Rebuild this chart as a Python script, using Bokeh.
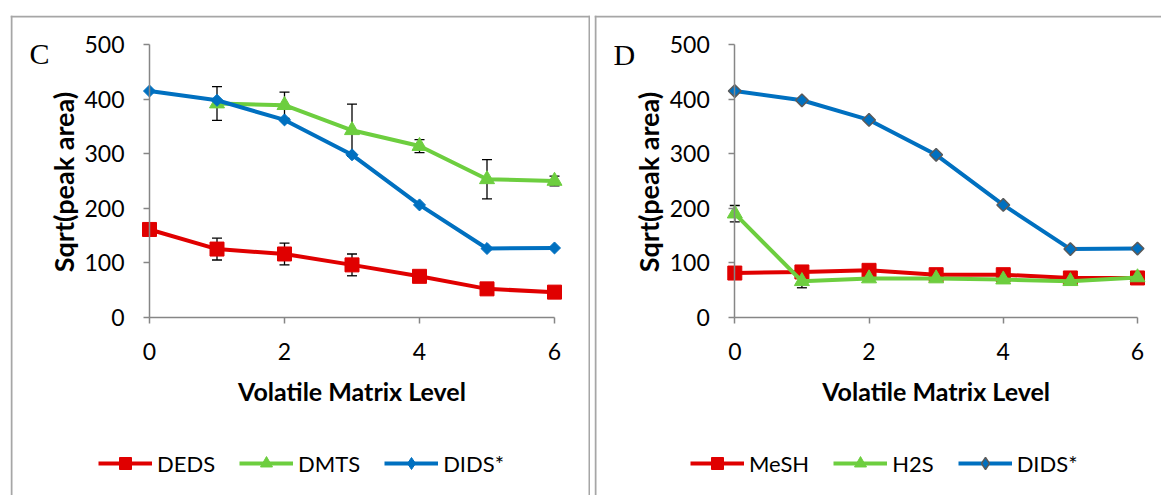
from bokeh.plotting import figure
from bokeh.layouts import row
from bokeh.models import Range1d, Label, Legend, LegendItem, ColumnDataSource, FixedTicker, Span
from bokeh.embed import file_html
from bokeh.resources import INLINE
from math import pi

# ---------------- data ----------------
levels = [0, 1, 2, 3, 4, 5, 6]
x_ticks = [0, 2, 4, 6]
y_ticks = [0, 100, 200, 300, 400, 500]
x_title = "Volatile Matrix Level"
y_title = "Sqrt(peak area)"

# panel C
deds = [161, 125, 116, 96, 75, 52, 46]
deds_err = [0, 20, 20, 20, 0, 0, 0]
dmts_levels = [1, 2, 3, 4, 5, 6]
dmts = [392, 389, 343, 314, 253, 250]
dmts_err = [31, 24, 48, 12, 36, 9]
dids_c = [415, 398, 362, 298, 206, 126, 127]

# panel D
mesh = [81, 83, 86, 78, 78, 72, 72]
mesh_err = [0, 0, 0, 0, 0, 0, 0]
h2s = [190, 66, 71, 71, 69, 66, 73]
h2s_err = [15, 12, 0, 0, 0, 0, 0]
dids_d = [415, 398, 362, 298, 206, 125, 126]

RED = "#E00000"
GREEN = "#6DCE3F"
BLUE = "#0070C0"
AXIS = "#868686"
BORDER = "#A6A6A6"
FONT = "Lato"
NAN = float("nan")


def make_panel(letter, letter_xy, series, width, height, origin, px0, px6, py0, py500,
               legend_xy, right_border):
    ox, oy = origin
    ux = (px6 - px0) / 6.0          # px per x unit
    uy = (py0 - py500) / 500.0      # px per y unit

    def dx(page_x):
        return (page_x - px0) / ux

    def dy(page_y):
        return (py0 - page_y) / uy

    p = figure(width=width, height=height, output_backend="svg", toolbar_location=None,
               x_range=Range1d(dx(ox), dx(ox + width)), y_range=Range1d(dy(oy + height), dy(oy)),
               min_border=0)
    p.outline_line_color = None
    p.grid.visible = False
    p.background_fill_color = "white"
    p.border_fill_color = "white"

    # chart-area border
    p.add_layout(Span(location=dx(ox + 1), dimension="height", line_color=BORDER, line_width=2))
    p.add_layout(Span(location=dy(oy + 1), dimension="width", line_color=BORDER, line_width=2))
    if right_border:
        p.add_layout(Span(location=dx(ox + width - 1), dimension="height", line_color=BORDER, line_width=2))

    for ax in (p.xaxis[0], p.yaxis[0]):
        ax.fixed_location = 0
        ax.axis_line_color = AXIS
        ax.axis_line_width = 1.5
        ax.major_tick_line_color = AXIS
        ax.major_tick_line_width = 1.5
        ax.major_tick_out = 6
        ax.major_tick_in = 0
        ax.minor_tick_line_color = None
        ax.major_label_text_font = FONT
        ax.major_label_text_font_size = "23px"
        ax.major_label_text_color = "#000000"

    p.xaxis[0].ticker = FixedTicker(ticks=x_ticks)
    p.yaxis[0].ticker = FixedTicker(ticks=y_ticks)
    p.xaxis[0].bounds = (min(x_ticks), max(x_ticks))
    p.yaxis[0].bounds = (min(y_ticks), max(y_ticks))
    p.xaxis[0].major_label_standoff = 20
    p.yaxis[0].major_label_standoff = 19

    # axis titles
    p.add_layout(Label(x=(min(x_ticks) + max(x_ticks)) / 2, y=dy(390), text=x_title,
                       text_font=FONT, text_font_style="bold", text_font_size="25px",
                       text_color="#000000", text_align="center", text_baseline="middle"))
    p.add_layout(Label(x=dx(px0 - 86.5), y=(min(y_ticks) + max(y_ticks)) / 2 - 2, text=y_title,
                       angle=pi / 2, text_font=FONT, text_font_style="bold", text_font_size="27px",
                       text_color="#000000", text_align="center", text_baseline="middle"))

    # error bars first (behind lines/markers)
    for s in series:
        if s.get("err") is None:
            continue
        xs, ys, es = s["x"], s["y"], s["err"]
        lo = [y - e for y, e in zip(ys, es)]
        hi = [y + e for y, e in zip(ys, es)]
        src = ColumnDataSource(dict(x=xs, lo=lo, hi=hi))
        p.segment(x0="x", y0="lo", x1="x", y1="hi", source=src, line_color="black", line_width=1.3)
        p.scatter(x="x", y="lo", source=src, marker="dash", size=10, line_color="black", line_width=1.3)
        p.scatter(x="x", y="hi", source=src, marker="dash", size=10, line_color="black", line_width=1.3)

    items = []
    for s in series:
        src = ColumnDataSource(dict(x=s["x"], y=s["y"]))
        lr = p.line(x="x", y="y", source=src, line_color=s["color"], line_width=4)
        m = s["marker"]
        oc = s.get("outline", s["color"])
        ow = s.get("outline_w", 1)
        if m == "diamond":
            p.scatter(x="x", y="y", source=src, marker="square", angle=pi / 4, size=s["size"],
                      fill_color=s["color"], line_color=oc, line_width=ow)
        else:
            p.scatter(x="x", y="y", source=src, marker=m, size=s["size"],
                      fill_color=s["color"], line_color=oc, line_width=ow)
        # legend proxy marker (no visible point)
        leg_m = p.scatter(x=[NAN], y=[NAN], marker=m, fill_color=s["color"], line_color=oc, line_width=ow)
        items.append(LegendItem(label=s["label"], renderers=[lr, leg_m]))

    legend = Legend(items=items, orientation="horizontal", location=legend_xy,
                    glyph_width=54, glyph_height=30, label_height=30, label_standoff=5,
                    spacing=24, padding=0, margin=0, border_line_color=None,
                    background_fill_alpha=0, label_text_font=FONT,
                    label_text_font_size="22px", label_text_color="#000000")
    p.add_layout(legend, "center")

    p.add_layout(Label(x=dx(letter_xy[0]), y=dy(letter_xy[1]), text=letter,
                       text_font="Liberation Serif", text_font_size="30px",
                       text_color="#000000", text_baseline="alphabetic"))
    return p


series_c = [
    dict(label="DEDS", x=levels, y=deds, err=deds_err, color=RED, marker="square", size=14),
    dict(label="DMTS", x=dmts_levels, y=dmts, err=dmts_err, color=GREEN, marker="triangle", size=15),
    dict(label="DIDS*", x=levels, y=dids_c, err=None, color=BLUE, marker="diamond", size=8.5),
]
series_d = [
    dict(label="MeSH", x=levels, y=mesh, err=mesh_err, color=RED, marker="square", size=14),
    dict(label="H2S", x=levels, y=h2s, err=h2s_err, color=GREEN, marker="triangle", size=15),
    dict(label="DIDS*", x=levels, y=dids_d, err=None, color=BLUE, marker="diamond", size=9,
         outline="#5A5A5A", outline_w=1.5),
]

p1 = make_panel("C", (29, 53), series_c, 580, 480, (10, 15), 149, 554, 316.7, 44.2, (88, 17), True)
p2 = make_panel("D", (613, 54), series_d, 567, 480, (594, 15), 734.3, 1137, 316.7, 44.2, (96, 17), False)

p1.margin = (15, 0, 0, 10)
p2.margin = (15, 0, 0, 4)

layout = row(p1, p2)
layout.margin = 0
html = file_html(layout, INLINE)
html = html.replace("<head>", "<head><style>body{margin:0;padding:0;overflow:hidden;}</style>", 1)
open("out.html", "w").write(html)
